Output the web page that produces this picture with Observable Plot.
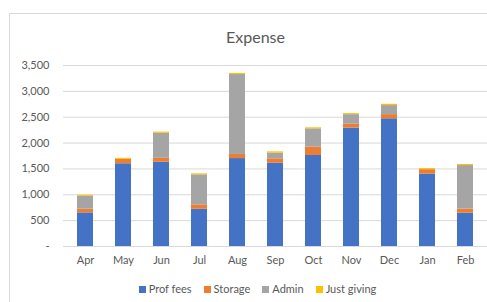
<!DOCTYPE html>
<html>
<head>
<meta charset="utf-8">
<script src="https://cdn.jsdelivr.net/npm/d3@7"></script>
<script src="https://cdn.jsdelivr.net/npm/@observablehq/plot@0.6"></script>
<style>
  html, body { margin: 0; padding: 0; background: #fff; width: 487px; height: 302px; overflow: hidden; position: relative; font-family: Lato, "Open Sans", sans-serif; }
  #frame { position: absolute; left: 9px; top: 13px; width: 600px; height: 400px; border: 1px solid #d9d9d9; box-sizing: border-box; }
  #title { position: absolute; left: 0; width: 487px; top: 26px; padding-left: 24px; box-sizing: border-box; text-align: center; font-size: 16px; line-height: 22px; color: #595959; }
  #chart { position: absolute; left: 0; top: 50px; }
  #legend { position: absolute; left: 0; width: 487px; top: 282px; display: flex; justify-content: center; gap: 12px; font-size: 11px; color: #595959; line-height: 14px; padding-left: 28px; box-sizing: border-box; }
  .item { display: flex; align-items: center; gap: 3px; }
  .sw { width: 7px; height: 7px; display: inline-block; }
</style>
</head>
<body>
<div id="frame"></div>
<div id="title">Expense</div>
<div id="chart"></div>
<div id="legend"></div>
<script>
const months = ["Apr","May","Jun","Jul","Aug","Sep","Oct","Nov","Dec","Jan","Feb"];
const seriesNames = ["Prof fees","Storage","Admin","Just giving"];
const profFees  = [650, 1600, 1630, 720, 1700, 1610, 1760, 2290, 2470, 1400, 645];
const storage   = [ 72,   85,   75,  85,   80,   85,  160,   80,   80,   85,  80];
const admin     = [250,    0,  485, 580, 1545,  110,  355,  180,  175,    0, 840];
const justGiving= [ 20,   20,   22,  20,   22,   25,   20,   20,   25,   22,  20];
const colors = ["#4472C4","#ED7D31","#A5A5A5","#FFC000"];
const yTicks = [0,500,1000,1500,2000,2500,3000,3500];

const seriesValues = [profFees, storage, admin, justGiving];
const data = [];
seriesNames.forEach((s, si) => {
  months.forEach((m, mi) => data.push({month: m, series: s, value: seriesValues[si][mi]}));
});

const fmt = d3.format(",");
const plot = Plot.plot({
  width: 487,
  height: 230,
  marginTop: 15,
  marginBottom: 34,
  marginLeft: 63,
  marginRight: 0,
  style: { fontFamily: "Lato, 'Open Sans', sans-serif", fontSize: "11px", color: "#595959", background: "transparent" },
  x: { domain: months, paddingInner: 0.58, paddingOuter: 0.3, label: null },
  y: { domain: [0, 3500], label: null },
  color: { domain: seriesNames, range: colors },
  marks: [
    Plot.ruleY(yTicks, { stroke: "#d9d9d9", strokeWidth: 1 }),
    Plot.barY(data, { x: "month", y: "value", fill: "series", order: seriesNames }),
    Plot.axisY({ ticks: yTicks, tickSize: 0, tickPadding: 14, tickFormat: d => d === 0 ? "-" : fmt(d), fill: "#595959" }),
    Plot.axisX({ tickSize: 0, tickPadding: 10, fill: "#595959" })
  ]
});
document.getElementById("chart").appendChild(plot);

const legend = document.getElementById("legend");
seriesNames.forEach((s, i) => {
  const it = document.createElement("span");
  it.className = "item";
  const sw = document.createElement("span");
  sw.className = "sw";
  sw.style.background = colors[i];
  it.appendChild(sw);
  it.appendChild(document.createTextNode(s));
  legend.appendChild(it);
});
</script>
</body>
</html>
